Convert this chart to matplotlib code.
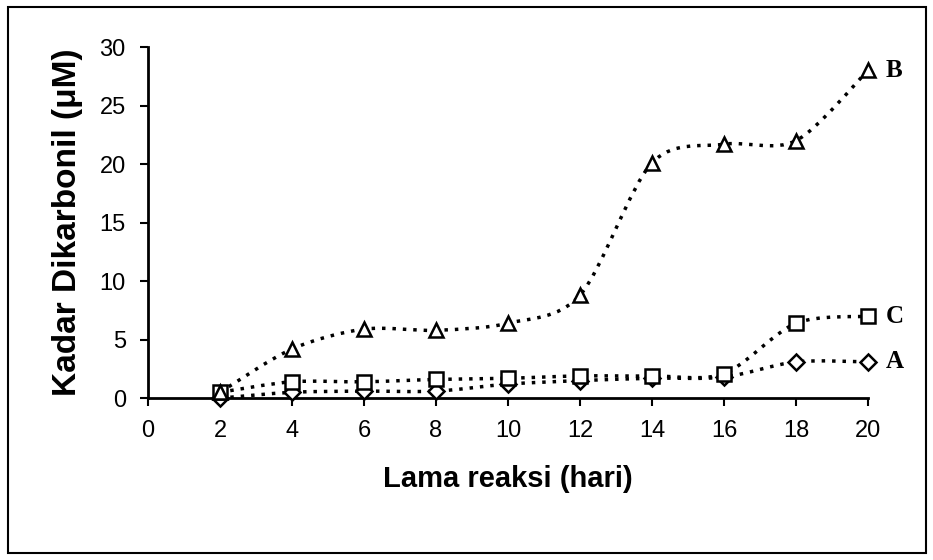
import numpy as np
import matplotlib.pyplot as plt
from matplotlib.path import Path
from matplotlib.patches import PathPatch, Rectangle

# data
hari = [2, 4, 6, 8, 10, 12, 14, 16, 18, 20]
kadar_A = [0.0, 0.5, 0.6, 0.6, 1.2, 1.5, 1.7, 1.8, 3.1, 3.1]
kadar_B = [0.5, 4.2, 5.9, 5.8, 6.4, 8.8, 20.1, 21.7, 22.0, 28.0]
kadar_C = [0.5, 1.4, 1.4, 1.6, 1.7, 1.9, 1.9, 2.1, 6.4, 7.0]

x_ticks = [0, 2, 4, 6, 8, 10, 12, 14, 16, 18, 20]
y_ticks = [0, 5, 10, 15, 20, 25, 30]

sans = ['Liberation Sans', 'DejaVu Sans']


def smooth_path(x, y, t=0.15):
    # excel style smoothed line as cubic bezier segments
    x = np.asarray(x, float)
    y = np.asarray(y, float)
    verts = [(x[0], y[0])]
    codes = [Path.MOVETO]
    n = len(x)
    for i in range(n - 1):
        x0, y0 = (x[i - 1], y[i - 1]) if i > 0 else (x[i], y[i])
        x3, y3 = (x[i + 2], y[i + 2]) if i + 2 < n else (x[i + 1], y[i + 1])
        c1 = (x[i] + t * (x[i + 1] - x0), y[i] + t * (y[i + 1] - y0))
        c2 = (x[i + 1] - t * (x3 - x[i]), y[i + 1] - t * (y3 - y[i]))
        verts += [c1, c2, (x[i + 1], y[i + 1])]
        codes += [Path.CURVE4] * 3
    return Path(verts, codes)


fig = plt.figure(figsize=(9.33, 5.6), dpi=100)
fig.patches.append(Rectangle((0.009, 0.012), 0.983, 0.975, transform=fig.transFigure,
                             fill=False, edgecolor='black', linewidth=1.5))
ax = fig.add_axes([0.1586, 0.289, 0.7717, 0.627])

for ys, m, lab in [(kadar_A, 'D', 'A'), (kadar_C, 's', 'C'), (kadar_B, '^', 'B')]:
    ax.add_patch(PathPatch(smooth_path(hari, ys), fill=False, edgecolor='black',
                           linewidth=2.5, linestyle=(0, (1, 2)), clip_on=False))
    ax.plot(hari, ys, linestyle='none', marker=m, markersize=10 if m != 'D' else 8,
            markerfacecolor='white', markeredgecolor='black', markeredgewidth=1.8,
            clip_on=False, zorder=3)
    ax.text(hari[-1] + 0.5, ys[-1], lab, fontsize=18, fontweight='bold',
            family='Liberation Serif', va='center', ha='left')

ax.set_xlim(0, 20)
ax.set_ylim(0, 30)
ax.set_xticks(x_ticks)
ax.set_yticks(y_ticks)
ax.spines['top'].set_visible(False)
ax.spines['right'].set_visible(False)
ax.spines['left'].set_linewidth(2)
ax.spines['bottom'].set_linewidth(2)
ax.tick_params(direction='out', length=6, width=1.5, labelsize=17, pad=10)
for lbl in ax.get_xticklabels() + ax.get_yticklabels():
    lbl.set_family(sans)

ax.set_ylabel('Kadar Dikarbonil (μM)', fontsize=24, fontweight='bold', labelpad=12,
              family=sans)
ax.set_xlabel('Lama reaksi (hari)', fontsize=21, fontweight='bold', labelpad=16,
              family=sans)

fig.savefig('out.png', dpi=100)
